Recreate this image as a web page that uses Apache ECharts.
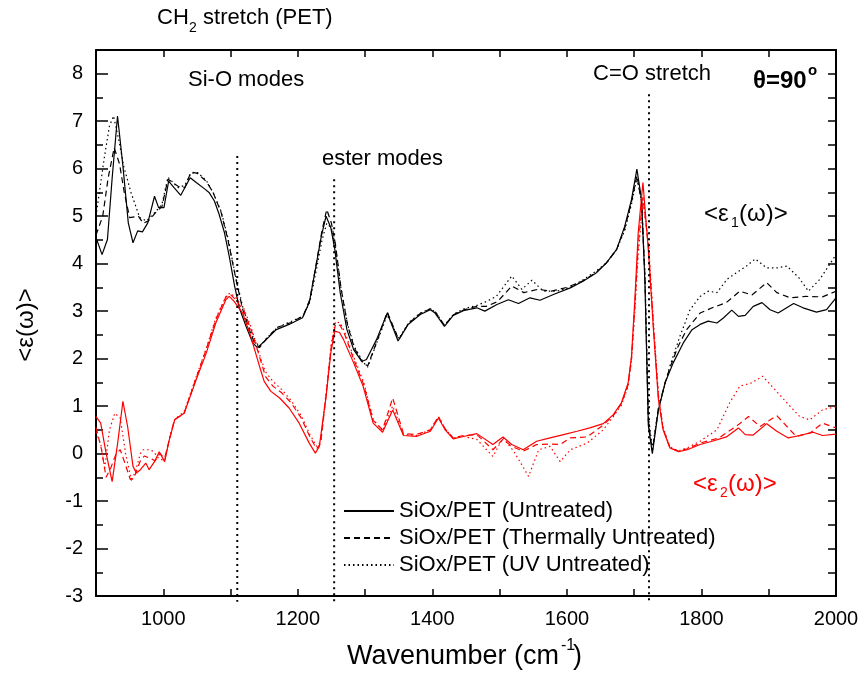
<!DOCTYPE html>
<html>
<head>
<meta charset="utf-8">
<script src="https://cdn.jsdelivr.net/npm/echarts@6/dist/echarts.min.js"></script>
<style>
  html, body { margin: 0; padding: 0; background: #fff; }
  #main { width: 862px; height: 675px; }
</style>
</head>
<body>
<div id="main"></div>
<script>
// <eps1> curves (black)
const e1Untreated = [[900,4.55],[909,4.19],[917,4.51],[924,5.8],[932,7.11],[940,6.06],[948,4.86],[955,4.44],[962,4.69],[969,4.67],[977,4.86],[987,5.42],[993,5.18],[1001,5.18],[1008,5.74],[1016,5.6],[1026,5.44],[1040,5.81],[1049,5.71],[1061,5.58],[1068,5.5],[1076,5.32],[1083,5.04],[1091,4.65],[1098,4.16],[1106,3.53],[1113,3.07],[1123,2.68],[1133,2.33],[1140,2.23],[1153,2.4],[1168,2.61],[1187,2.72],[1207,2.86],[1217,3.18],[1227,3.95],[1235,4.58],[1242,5.0],[1249,4.76],[1255,4.3],[1263,3.39],[1273,2.61],[1283,2.19],[1295,1.94],[1302,1.98],[1317,2.4],[1333,2.96],[1349,2.37],[1364,2.72],[1382,2.93],[1397,3.03],[1404,2.96],[1418,2.68],[1431,2.91],[1446,3.01],[1466,3.07],[1478,3.0],[1496,3.14],[1513,3.24],[1528,3.16],[1545,3.28],[1560,3.23],[1580,3.35],[1605,3.49],[1624,3.63],[1644,3.81],[1659,4.02],[1674,4.3],[1686,4.79],[1696,5.35],[1704,5.99],[1711,5.35],[1716,3.6],[1721,0.6],[1727,0.0],[1736,0.92],[1746,1.49],[1758,1.91],[1773,2.33],[1786,2.61],[1798,2.72],[1810,2.79],[1823,2.75],[1833,2.86],[1845,3.02],[1855,2.89],[1865,2.91],[1877,3.1],[1890,3.18],[1902,3.03],[1914,2.96],[1937,3.16],[1951,3.07],[1971,2.98],[1986,3.03],[2000,3.28]];
const e1Thermal = [[900,4.6],[910,5.0],[918,5.8],[927,6.44],[935,6.1],[942,5.5],[950,4.97],[963,5.0],[970,4.85],[978,4.9],[989,5.08],[998,5.2],[1007,5.78],[1022,5.63],[1032,5.6],[1041,5.93],[1051,5.9],[1064,5.73],[1074,5.5],[1086,5.08],[1096,4.51],[1108,3.67],[1118,3.04],[1128,2.6],[1135,2.35],[1143,2.23],[1155,2.45],[1170,2.66],[1190,2.76],[1208,2.9],[1218,3.25],[1228,4.05],[1236,4.7],[1243,5.14],[1250,4.85],[1256,4.4],[1264,3.5],[1274,2.7],[1284,2.22],[1297,1.9],[1304,1.85],[1318,2.38],[1333,2.98],[1350,2.4],[1365,2.75],[1382,2.95],[1397,3.05],[1405,2.97],[1418,2.7],[1432,2.93],[1447,3.03],[1466,3.1],[1480,3.1],[1497,3.2],[1518,3.53],[1536,3.39],[1557,3.46],[1577,3.42],[1600,3.5],[1624,3.64],[1644,3.82],[1659,4.02],[1674,4.3],[1686,4.75],[1696,5.3],[1704,5.85],[1711,5.3],[1716,3.7],[1721,0.7],[1727,0.05],[1736,0.95],[1746,1.5],[1753,1.8],[1765,2.25],[1778,2.61],[1798,2.96],[1816,3.07],[1837,3.18],[1857,3.42],[1875,3.34],[1897,3.6],[1912,3.39],[1932,3.28],[1955,3.31],[1980,3.3],[2000,3.42]];
const e1UV = [[900,5.0],[912,6.2],[920,6.9],[926,7.11],[934,6.6],[941,6.06],[952,5.5],[965,4.97],[975,4.9],[989,5.1],[998,5.25],[1007,5.82],[1022,5.6],[1032,5.65],[1041,5.9],[1051,5.92],[1064,5.75],[1074,5.5],[1086,5.1],[1096,4.55],[1108,3.7],[1118,3.1],[1128,2.65],[1135,2.4],[1143,2.25],[1155,2.45],[1170,2.66],[1190,2.78],[1208,2.9],[1218,3.2],[1228,3.9],[1236,4.5],[1243,4.85],[1250,4.75],[1256,4.35],[1264,3.5],[1274,2.72],[1284,2.25],[1297,1.93],[1304,1.82],[1318,2.36],[1333,2.92],[1350,2.42],[1365,2.76],[1382,2.96],[1397,3.05],[1405,2.98],[1418,2.7],[1432,2.94],[1447,3.05],[1466,3.12],[1480,3.2],[1495,3.31],[1518,3.74],[1533,3.46],[1548,3.65],[1565,3.42],[1585,3.42],[1605,3.5],[1624,3.66],[1644,3.85],[1659,4.02],[1674,4.3],[1686,4.7],[1696,5.25],[1704,5.8],[1711,5.3],[1716,3.8],[1721,0.8],[1727,0.1],[1736,0.95],[1753,1.84],[1768,2.47],[1783,3.03],[1798,3.31],[1810,3.42],[1823,3.39],[1838,3.67],[1852,3.81],[1867,3.95],[1880,4.1],[1897,3.91],[1912,3.91],[1927,3.95],[1945,3.7],[1959,3.42],[1976,3.67],[2000,4.19]];

// <eps2> curves (red)
const e2Untreated = [[900,0.78],[907,0.64],[915,0.01],[924,-0.59],[932,0.2],[940,1.1],[947,0.57],[955,-0.27],[960,-0.41],[966,-0.34],[974,-0.2],[979,-0.34],[987,-0.17],[994,0.04],[1002,-0.17],[1009,0.29],[1017,0.71],[1031,0.85],[1049,1.56],[1064,2.12],[1078,2.75],[1093,3.24],[1098,3.31],[1105,3.21],[1118,2.96],[1130,2.47],[1143,1.84],[1150,1.52],[1160,1.31],[1173,1.17],[1187,0.96],[1202,0.64],[1217,0.22],[1226,0.01],[1232,0.15],[1242,1.2],[1249,2.12],[1255,2.58],[1262,2.55],[1268,2.4],[1283,1.91],[1297,1.42],[1312,0.64],[1326,0.45],[1341,0.92],[1357,0.38],[1376,0.36],[1397,0.47],[1409,0.75],[1419,0.5],[1431,0.31],[1446,0.36],[1466,0.42],[1490,0.19],[1505,0.35],[1518,0.19],[1535,0.08],[1555,0.26],[1575,0.33],[1595,0.4],[1615,0.47],[1634,0.54],[1654,0.63],[1669,0.82],[1681,1.07],[1691,1.49],[1696,2.05],[1701,3.24],[1706,4.65],[1713,5.71],[1721,4.3],[1729,2.54],[1736,1.14],[1743,0.5],[1753,0.12],[1766,0.04],[1779,0.08],[1798,0.19],[1816,0.26],[1837,0.35],[1855,0.54],[1865,0.4],[1877,0.39],[1897,0.63],[1912,0.47],[1929,0.33],[1946,0.38],[1966,0.45],[1980,0.38],[2000,0.41]];
const e2Thermal = [[900,0.55],[908,0.1],[915,-0.5],[922,-0.3],[930,0.0],[936,0.08],[943,-0.2],[951,-0.55],[958,-0.45],[966,-0.15],[972,-0.05],[980,-0.1],[988,-0.15],[995,0.0],[1002,-0.1],[1009,0.3],[1017,0.72],[1031,0.85],[1049,1.6],[1064,2.2],[1078,2.82],[1093,3.3],[1099,3.36],[1107,3.25],[1120,3.0],[1132,2.55],[1145,1.95],[1152,1.62],[1163,1.42],[1176,1.28],[1190,1.07],[1205,0.75],[1218,0.35],[1228,0.1],[1234,0.22],[1243,1.35],[1250,2.3],[1256,2.72],[1263,2.7],[1270,2.5],[1284,1.95],[1298,1.45],[1312,0.7],[1326,0.5],[1341,1.17],[1357,0.42],[1376,0.4],[1397,0.5],[1409,0.78],[1419,0.52],[1431,0.33],[1446,0.38],[1466,0.4],[1490,0.08],[1505,0.3],[1518,0.15],[1535,0.05],[1555,0.19],[1575,0.2],[1590,0.19],[1605,0.33],[1630,0.35],[1654,0.6],[1669,0.8],[1681,1.05],[1691,1.45],[1696,2.0],[1701,3.1],[1706,4.4],[1713,5.4],[1721,4.4],[1729,2.6],[1736,1.2],[1743,0.52],[1753,0.13],[1766,0.05],[1779,0.1],[1798,0.22],[1826,0.33],[1855,0.61],[1870,0.78],[1887,0.57],[1912,0.8],[1927,0.57],[1941,0.36],[1961,0.43],[1980,0.64],[2000,0.54]];
const e2UV = [[900,0.45],[907,0.2],[913,-0.3],[920,0.5],[928,0.85],[936,0.75],[944,0.0],[953,-0.59],[960,-0.3],[966,0.0],[970,0.08],[978,0.08],[985,0.05],[993,-0.1],[1002,-0.15],[1009,0.32],[1017,0.72],[1031,0.88],[1049,1.62],[1064,2.22],[1078,2.85],[1093,3.3],[1099,3.38],[1107,3.3],[1120,3.05],[1132,2.6],[1145,2.0],[1152,1.72],[1163,1.52],[1176,1.35],[1190,1.12],[1205,0.8],[1218,0.4],[1228,0.15],[1234,0.25],[1243,1.4],[1250,2.35],[1256,2.78],[1263,2.75],[1270,2.55],[1284,2.0],[1298,1.5],[1312,0.72],[1326,0.48],[1341,1.0],[1357,0.4],[1376,0.38],[1397,0.5],[1409,0.78],[1419,0.52],[1431,0.33],[1446,0.36],[1466,0.3],[1490,-0.06],[1505,0.33],[1521,0.05],[1543,-0.48],[1558,0.08],[1575,0.15],[1590,-0.17],[1605,0.08],[1630,0.22],[1654,0.5],[1669,0.78],[1681,1.02],[1691,1.42],[1696,1.95],[1701,3.0],[1706,4.2],[1713,5.3],[1721,4.5],[1729,2.7],[1736,1.25],[1743,0.55],[1753,0.14],[1766,0.06],[1779,0.12],[1798,0.26],[1823,0.5],[1842,1.07],[1857,1.42],[1875,1.49],[1891,1.63],[1909,1.35],[1927,1.07],[1946,0.78],[1961,0.71],[1980,0.92],[2000,0.99]];

// dotted guide lines: wavenumber and top end (bottom end is just below the axis)
const guideX = [1110, 1254, 1722];
const guideTop = [6.27, 5.78, 7.57];
const guideBottom = -3.12;

const legendNames = [
  "SiOx/PET (Untreated)",
  "SiOx/PET (Thermally Untreated)",
  "SiOx/PET (UV Untreated)"
];

const FONT = "'Liberation Sans', Arial, sans-serif";
const DASH = [6, 4];
const DOT = [1.5, 3];

const curve = (name, data, color, type) => ({
  name: name,
  type: "line",
  data: data,
  symbol: "none",
  silent: true,
  itemStyle: { color: color },
  lineStyle: { color: color, width: 1.2, type: type }
});

const guides = guideX.map((x, i) => ({
  type: "line",
  data: [[x, guideTop[i]], [x, guideBottom]],
  symbol: "none",
  silent: true,
  clip: false,
  lineStyle: { color: "#000", width: 2, type: [2, 4] }
}));

const txt = (text, x, y, size, opts) => ({
  type: "text",
  x: x,
  y: y,
  silent: true,
  style: Object.assign({
    text: text,
    fontFamily: FONT,
    fontSize: size,
    fill: "#000",
    textVerticalAlign: "middle"
  }, opts || {})
});

const axisLine = { onZero: false, lineStyle: { color: "#000", width: 2 } };
const tickStyle = { color: "#000", width: 1.5 };

var chart = echarts.init(document.getElementById("main"), null, { renderer: "canvas" });
chart.setOption({
  animation: false,
  backgroundColor: "#fff",
  grid: { left: 96, right: 26, top: 50, bottom: 79, containLabel: false },
  xAxis: [
    {
      type: "value", position: "bottom", min: 900, max: 2000, interval: 100,
      axisLine: axisLine,
      axisTick: { inside: true, length: 7, lineStyle: tickStyle },
      axisLabel: {
        formatter: v => (v % 200 === 0 ? String(v) : ""),
        color: "#000", fontSize: 20, fontFamily: FONT, margin: 13
      },
      splitLine: { show: false }
    },
    {
      type: "value", position: "top", min: 900, max: 2000, interval: 100,
      axisLine: axisLine,
      axisTick: { inside: true, length: 7, lineStyle: tickStyle },
      axisLabel: { show: false },
      splitLine: { show: false }
    }
  ],
  yAxis: [
    {
      type: "value", position: "left", min: -3, max: 8.5, interval: 1,
      axisLine: axisLine,
      axisTick: { inside: true, length: 12, lineStyle: tickStyle },
      axisLabel: {
        formatter: v => (Number.isInteger(v) ? String(v) : ""),
        color: "#000", fontSize: 20, fontFamily: FONT, margin: 13
      },
      splitLine: { show: false }
    },
    {
      type: "value", position: "left", min: -3, max: 8.5, interval: 0.5,
      axisLine: { show: false, onZero: false },
      axisTick: { inside: true, length: 7, lineStyle: tickStyle },
      axisLabel: { show: false },
      splitLine: { show: false }
    },
    {
      type: "value", position: "right", min: -3, max: 8.5, interval: 0.5,
      axisLine: axisLine,
      axisTick: { inside: true, length: 8, lineStyle: tickStyle },
      axisLabel: { show: false },
      splitLine: { show: false }
    }
  ],
  legend: {
    data: legendNames,
    orient: "vertical",
    left: 343,
    top: 500,
    padding: 0,
    itemWidth: 50,
    itemHeight: 10,
    itemGap: 5,
    selectedMode: false,
    itemStyle: { opacity: 0 },
    textStyle: { color: "#000", fontSize: 22, fontFamily: FONT }
  },
  series: [
    curve(legendNames[0], e1Untreated, "#000", "solid"),
    curve(legendNames[1], e1Thermal, "#000", DASH),
    curve(legendNames[2], e1UV, "#000", DOT),
    curve("e2 untreated", e2Untreated, "#ff0000", "solid"),
    curve("e2 thermal", e2Thermal, "#ff0000", DASH),
    curve("e2 uv", e2UV, "#ff0000", DOT)
  ].concat(guides),
  graphic: [
    txt("CH", 157, 18, 22),
    txt("2", 189, 28, 14),
    txt(" stretch (PET)", 197, 18, 22),
    txt("Si-O modes", 188, 80, 22),
    txt("ester modes", 322, 159, 22),
    txt("C=O stretch", 593, 74, 22),
    txt("\u03b8=90", 753, 81, 24, { fontWeight: "bold" }),
    txt("o", 808, 71, 15, { fontWeight: "bold" }),
    txt("<\u03b5", 704, 214, 24),
    txt("1", 731, 223, 14),
    txt("(\u03c9)>", 739, 214, 24),
    txt("<\u03b5", 693, 484, 24, { fill: "#ff0000" }),
    txt("2", 720, 493, 14, { fill: "#ff0000" }),
    txt("(\u03c9)>", 728, 484, 24, { fill: "#ff0000" }),
    {
      type: "text", x: 26, y: 325, rotation: Math.PI / 2, silent: true,
      style: {
        text: "<\u03b5(\u03c9)>", fontFamily: FONT, fontSize: 24, fill: "#000",
        textAlign: "center", textVerticalAlign: "middle"
      }
    },
    txt("Wavenumber (cm", 347, 657, 27),
    txt("-1", 561, 646, 16),
    txt(")", 573, 657, 27)
  ]
});
</script>
</body>
</html>
